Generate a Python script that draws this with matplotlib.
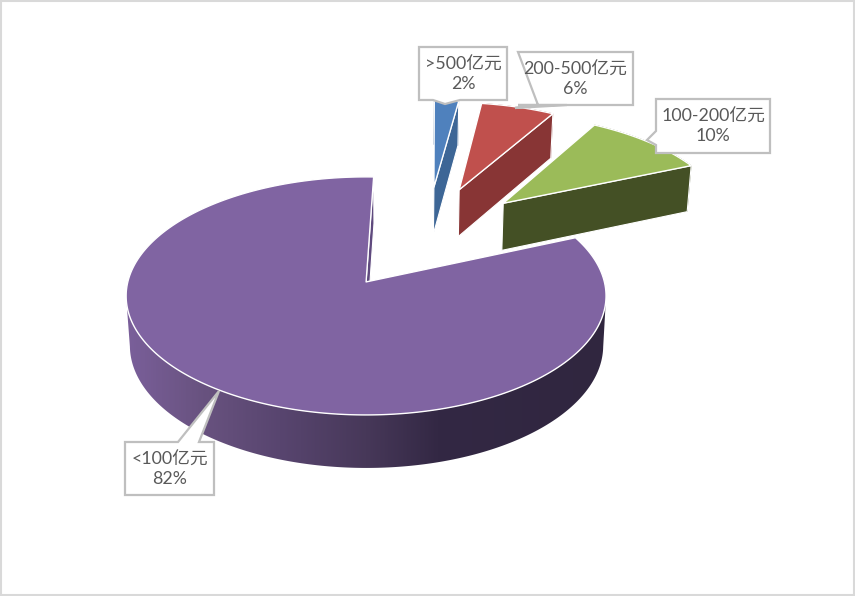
import numpy as np
import matplotlib
matplotlib.use("Agg")
import matplotlib.pyplot as plt
from matplotlib.colors import LinearSegmentedColormap
from matplotlib.patches import Polygon, Rectangle

plt.rcParams['font.family'] = ['Lato', 'Noto Sans CJK SC', 'DejaVu Sans']

categories = ['>500亿元', '200-500亿元', '100-200亿元', '<100亿元']
values = [2, 6, 10, 82]
top_colors = ['#4f81bd', '#c0504d', '#9bbb59', '#8064a2']
side_colors = ['#3d6696', '#883535', '#445025', '#5f4a7e']

# (left, right, top, bottom) of each callout, and its leader (base a, tip, base b)
boxes = [(419, 507, 47, 100), (518, 633, 52, 105), (656, 770, 99, 153), (125, 214, 442, 495)]
leaders = [[(460, 100), (445, 104), (433, 100)],
           [(567, 105), (515, 108), (538, 105)],
           [(656, 145), (647, 140), (656, 131)],
           [(178, 442), (219, 391), (199, 442)]]

ORIGIN = (367.0, 282.0)
A, B, K = 238.3, 117.4, 0.1176
ROTATION = 2.0
CENTER = (0.264, 0.405)
EXPLODE = (0.474, 0.49)


def project(u, v):
    w = 1 + K * v
    return ORIGIN[0] + A * u / w, ORIGIN[1] - B * v / w


def drop(x, y):
    depth = 46 + (y - 165) * 7 / 250
    return x - (x - 400) * 0.0137, y + depth


rim_cmap = LinearSegmentedColormap.from_list(
    'rim', [(0.0, '#7a5f9a'), (0.16, '#68527f'), (0.32, '#58456f'),
            (0.5, '#473859'), (0.65, '#332844'), (1.0, '#30263f')])

fig = plt.figure(figsize=(8.55, 5.96), dpi=100, facecolor='white')
ax = fig.add_axes([0, 0, 1, 1])
ax.add_patch(Rectangle((1, 1), 853, 594, fc='white', ec='#d9d9d9', lw=1.5))

fractions = np.array(values) / sum(values)
edges = ROTATION + np.concatenate([[0], np.cumsum(fractions)]) * 360

# largest slice first, the others lie over it
for i in [3, 0, 1, 2]:
    t0, t1 = edges[i], edges[i + 1]
    mid = np.radians((t0 + t1) / 2)
    cu = CENTER[0] + EXPLODE[0] * np.sin(mid)
    cv = CENTER[1] + EXPLODE[1] * np.cos(mid)
    th = np.radians(np.linspace(t0, t1, max(int(t1 - t0) * 2, 12)))
    rx, ry = project(cu + np.sin(th), cv + np.cos(th))
    bx, by = drop(rx, ry)
    ax_, ay_ = project(cu, cv)
    abx, aby = drop(ax_, ay_)

    # outer wall
    if i == 3:
        deg = np.degrees(th)
        keep = (deg > 97) & (deg < 263)
        wall = np.vstack([np.column_stack([rx[keep], ry[keep]]),
                          np.column_stack([bx[keep], by[keep]])[::-1]])
        patch = Polygon(wall, closed=True, fc='none', ec='none', zorder=2)
        ax.add_patch(patch)
        im = ax.imshow(np.linspace(0, 1, 480)[None, :], cmap=rim_cmap, vmin=0, vmax=1,
                       extent=(126, 606, 480, 280), aspect='auto', zorder=2,
                       interpolation='bilinear')
        im.set_clip_path(patch)
    else:
        wall = np.vstack([np.column_stack([rx, ry]), np.column_stack([bx, by])[::-1]])
        ax.add_patch(Polygon(wall, closed=True, fc=side_colors[i], ec=side_colors[i],
                             lw=0.5, zorder=2 + i))
    # cut face on the clockwise edge
    face = [(ax_, ay_), (rx[-1], ry[-1]), (bx[-1], by[-1]), (abx, aby)]
    ax.add_patch(Polygon(face, closed=True, fc=side_colors[i], ec='white', lw=0.8,
                         joinstyle='round', zorder=2.2 + i))
    # top face
    top = np.vstack([[ax_, ay_], np.column_stack([rx, ry])])
    ax.add_patch(Polygon(top, closed=True, fc=top_colors[i], ec='white', lw=1.0,
                         joinstyle='round', zorder=2.4 + i))

# callouts
for (l, r, t, b), lead, cat, val in zip(boxes, leaders, categories, values):
    if lead[1][0] < l:                 # leader on the left side
        pts = [(l, t), (r, t), (r, b), (l, b)] + lead
    elif lead[1][1] < t:               # leader on the top side
        pts = [(l, t)] + [lead[0], lead[1], lead[2]] + [(r, t), (r, b), (l, b)]
    else:                              # leader on the bottom side
        pts = [(l, t), (r, t), (r, b)] + lead + [(l, b)]
    ax.add_patch(Polygon(pts, closed=True, fc='white', ec='#bfbfbf', lw=1.6,
                         joinstyle='miter', zorder=20))
    ax.text((l + r) / 2, (t + b) / 2 + 0.5, f'{cat}\n{val}%', ha='center', va='center',
            color='#595959', fontsize=12.8, linespacing=1.28, zorder=21)

ax.set_xlim(0, 855)
ax.set_ylim(596, 0)
ax.axis('off')

fig.savefig('out.png', dpi=100, facecolor='white')
